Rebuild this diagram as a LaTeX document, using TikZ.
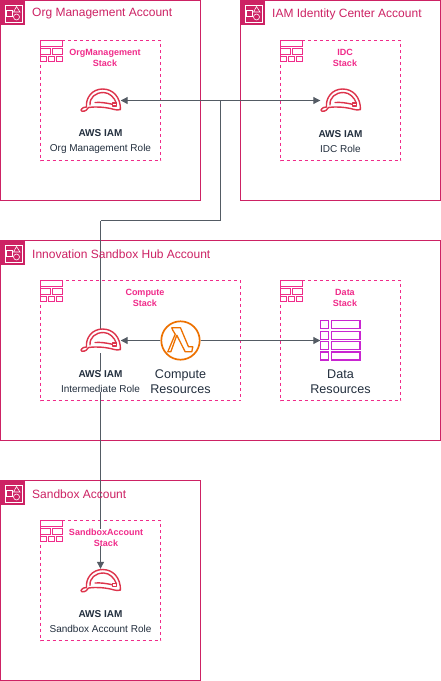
\documentclass[tikz,border=0pt]{standalone}
\usepackage{fontspec}
\setmainfont{Liberation Sans}
\usetikzlibrary{arrows.meta,calc}
\definecolor{acct}{HTML}{CD2264}
\definecolor{stackc}{HTML}{F02B8A}
\definecolor{hatc}{HTML}{DD344C}
\definecolor{lam}{HTML}{ED7100}
\definecolor{datac}{HTML}{C925D1}
\definecolor{ink}{HTML}{232F3E}
\definecolor{conn}{HTML}{545B64}
\pgfdeclarelayer{frames}
\pgfdeclarelayer{links}
\pgfsetlayers{frames,links,main}
\tikzset{
  acctframe/.style={draw=acct,line width=0.9pt,fill=none},
  stackframe/.style={draw=stackc,line width=0.8pt,dash pattern=on 3pt off 3pt},
  accttitle/.style={text=acct,font=\fontsize{12}{14}\selectfont,anchor=west,inner sep=0pt},
  stacklabel/.style={text=stackc,font=\fontsize{9}{11}\bfseries\selectfont,align=center,inner sep=0pt,fill=white},
  rolelabel/.style={text=ink,font=\fontsize{10}{14.5}\selectfont,align=center,inner sep=0pt,fill=white},
  reslabel/.style={text=ink,font=\fontsize{12.6}{15}\selectfont,align=center,inner sep=0pt},
  iconbox/.style={minimum width=40pt,minimum height=24pt,inner sep=0pt,fill=white},
  roundbox/.style={circle,minimum size=40pt,inner sep=0pt},
  squarebox/.style={minimum size=40pt,inner sep=0pt},
  link/.style={draw=conn,line width=1pt},
  tip/.style={-{Triangle[length=7pt,width=7pt]}},
  bothtip/.style={{Triangle[length=7pt,width=7pt]}-{Triangle[length=7pt,width=7pt]}},
}
\newcommand{\hatat}[1]{%
 \begin{scope}[shift={(#1)},draw=hatc,line width=1.4pt,line join=round,line cap=round,x=1pt,y=-1pt]
  \draw (-17,7) .. controls (-16,6.5) and (-15,6.5) .. (-14,6.5)
        .. controls (-15,-3) and (-8,-11.5) .. (2,-11.5)
        .. controls (13,-11.5) and (20,-3) .. (20,9)
        .. controls (16,10) and (14,9) .. (10,8)
        .. controls (3,6.5) and (-4,6) .. (-12,7)
        .. controls (-13,9) and (-15,11) .. (-18.5,10.8)
        .. controls (-20,10.5) and (-20,9) .. (-17,7) -- cycle;
  \draw (-10.5,4.5) .. controls (-11,-3) and (-5,-8) .. (3,-8)
        .. controls (9,-8) and (14,-3) .. (16,3);
  \draw (-5.5,2) .. controls (0,1.5) and (6,2.5) .. (11.5,3.7);
  \draw (12,2.5) rectangle (16,5.5);
 \end{scope}}
\newcommand{\stackicon}[1]{%
 \begin{scope}[shift={(#1)},draw=stackc,line width=0.9pt,x=1pt,y=-1pt]
  \draw (0.5,0.5) rectangle (22,6);
  \draw (0.5,8) rectangle (10.5,14);
  \draw (12,8) rectangle (22,14);
  \draw (0.5,16) rectangle (6.5,21.5);
  \draw (8.5,16) rectangle (14.5,21.5);
  \draw (16,16) rectangle (22,21.5);
 \end{scope}}
\newcommand{\accticon}[1]{%
 \begin{scope}[shift={(#1)},x=1pt,y=-1pt]
  \fill[acct] (0,0) rectangle (25,25);
  \draw[white,line width=0.6pt] (5,5) rectangle (22,22);
  \draw[white,line width=0.6pt] (6.5,10.5) rectangle (12.5,16.5);
  \draw[white,line width=0.6pt] (16.5,6.5) -- (20,12) -- (13.5,12) -- cycle;
  \draw[white,line width=0.6pt] (16.5,17) circle[radius=3];
 \end{scope}}
\begin{document}
\begin{tikzpicture}[x=1pt,y=-1pt]
\useasboundingbox (0,0) rectangle (441,681);

\begin{pgfonlayer}{frames}
 \fill[white] (0,0) rectangle (441,681);
 \draw[acctframe] (0.5,0.5) rectangle (200.5,200.5);
 \draw[acctframe] (240.5,0.5) rectangle (440.5,200.5);
 \draw[acctframe] (0.5,240.5) rectangle (440.5,440.5);
 \draw[acctframe] (0.5,480.5) rectangle (200.5,680.5);
 \draw[stackframe] (40.5,40.5) rectangle (160.5,160.5);
 \draw[stackframe] (280.5,40.5) rectangle (400.5,160.5);
 \draw[stackframe] (40.5,280.5) rectangle (240.5,400.5);
 \draw[stackframe] (280.5,280.5) rectangle (400.5,400.5);
 \draw[stackframe] (40.5,520.5) rectangle (160.5,640.5);
\end{pgfonlayer}

\accticon{0,0} \accticon{240,0} \accticon{0,240} \accticon{0,480}
\stackicon{40,40} \stackicon{280,40} \stackicon{40,280} \stackicon{280,280} \stackicon{40,520}

\node[accttitle] (orgtitle) at (32,14) {Org Management Account};
\node[accttitle] (idctitle) at (272,14) {IAM Identity Center Account};
\node[accttitle] (hubtitle) at (32,254) {Innovation Sandbox Hub Account};
\node[accttitle] (sbtitle) at (32,494) {Sandbox Account};

\node[stacklabel] (orgstack) at (105,57.5) {OrgManagement\\Stack};
\node[stacklabel] (idcstack) at (345,57.5) {IDC\\Stack};
\node[stacklabel] (compstack) at (145,297.5) {Compute\\Stack};
\node[stacklabel] (datastack) at (345,297.5) {Data\\Stack};
\node[stacklabel] (sbstack) at (106,537.5) {SandboxAccount\\Stack};

\node[iconbox] (orgiam) at (100.5,100.5) {};
\node[iconbox] (idciam) at (340.5,100.5) {};
\node[iconbox] (hubiam) at (100.5,340.5) {};
\node[iconbox] (sbiam) at (100.5,581) {};
\node[roundbox] (lambda) at (180.5,340.5) {};
\node[squarebox] (data) at (340.5,340.5) {};
\hatat{orgiam} \hatat{idciam} \hatat{hubiam} \hatat{sbiam}

\draw[lam,line width=1.7pt] (lambda) circle[radius=19.2];
\draw[lam,line width=1.3pt,line join=round] ($(lambda)+(-8.7,-12.7)$) -- ($(lambda)+(0,-12.7)$) -- ($(lambda)+(8,6.3)$) -- ($(lambda)+(12.3,6.3)$) -- ($(lambda)+(11.3,11.3)$) -- ($(lambda)+(4.7,11.3)$) -- ($(lambda)+(-3.7,-5.3)$) -- ($(lambda)+(-9.7,11.3)$) -- ($(lambda)+(-12.7,11.3)$) -- ($(lambda)+(-5.3,-6.3)$) -- ($(lambda)+(-7.7,-10.3)$) -- cycle;

\foreach \yy in {-20,-9.2,1.2,11.5} {
  \draw[datac,line width=1.4pt] ($(data)+(-19.8,\yy)$) rectangle ($(data)+(-11.8,\yy+8)$);
  \draw[datac,line width=1.4pt] ($(data)+(-9.2,\yy)$) rectangle ($(data)+(19.5,\yy+8)$);
}

\node[rolelabel] (orgrole) at (100.5,141.5) {\textbf{AWS IAM}\\Org Management Role};
\node[rolelabel] (idcrole) at (340.5,141.5) {\textbf{AWS IAM}\\IDC Role};
\node[rolelabel] (hubrole) at (100.5,381.5) {\textbf{AWS IAM}\\Intermediate Role};
\node[rolelabel] (sbrole) at (100.5,621.5) {\textbf{AWS IAM}\\Sandbox Account Role};
\node[reslabel] (complabel) at (180.5,381.5) {Compute\\Resources};
\node[reslabel] (datalabel) at (340.5,381.5) {Data\\Resources};

\coordinate (junction) at (220.5,100.5);
\coordinate (bend) at (220.5,220.5);
\coordinate (turn) at (100.5,220.5);

\begin{pgfonlayer}{links}
 \draw[link,bothtip] (orgiam.east) -- (idciam.west);
 \draw[link] (junction) -- (bend) -- (turn);
 \draw[link,tip] (turn) -- (sbiam.north);
 \draw[link,tip] (lambda.west) -- (hubiam.east);
 \draw[link,tip] (lambda.east) -- (data.west);
\end{pgfonlayer}
\end{tikzpicture}
\end{document}
